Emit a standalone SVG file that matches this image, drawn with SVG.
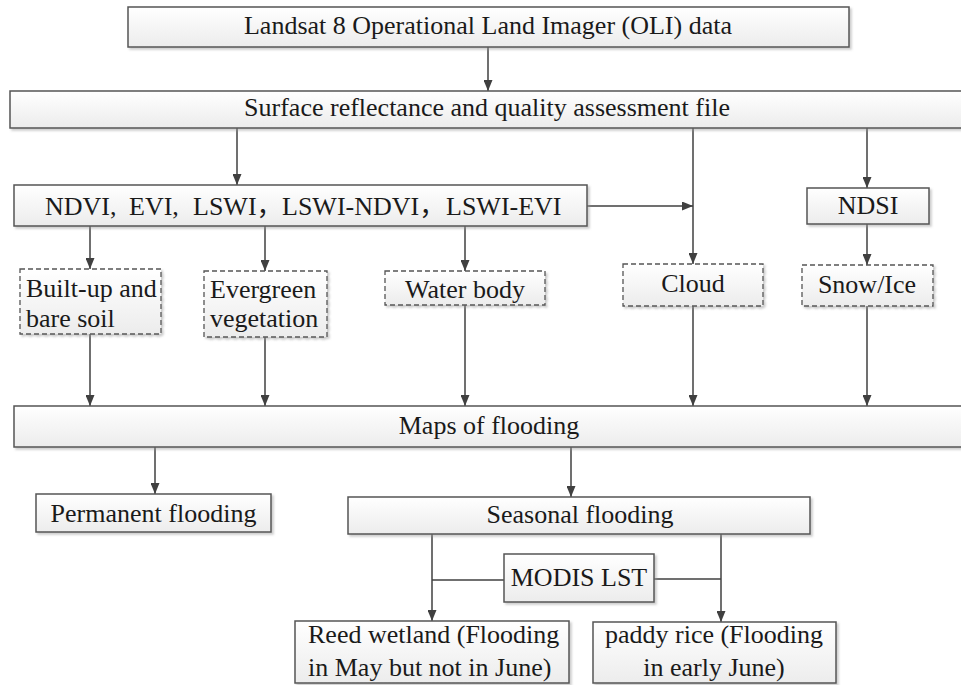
<svg xmlns="http://www.w3.org/2000/svg" width="961" height="685" viewBox="0 0 961 685">
<defs>
<linearGradient id="g" x1="0" y1="0" x2="0" y2="1">
<stop offset="0" stop-color="#ffffff"/>
<stop offset="1" stop-color="#ececec"/>
</linearGradient>
<filter id="sh" x="-5%" y="-20%" width="110%" height="150%">
<feDropShadow dx="2" dy="2" stdDeviation="1" flood-color="#999" flood-opacity="0.5"/>
</filter>
<marker id="ar" viewBox="0 0 10 10" refX="10" refY="5" markerWidth="11" markerHeight="9" markerUnits="userSpaceOnUse" orient="auto" preserveAspectRatio="none">
<path d="M0,0 L10,5 L0,10 z" fill="#404040"/>
</marker>
</defs>
<style>
.b{fill:url(#g);stroke:#555;stroke-width:1.5;filter:url(#sh)}
.d{fill:url(#g);stroke:#555;stroke-width:1.3;stroke-dasharray:5 3;filter:url(#sh)}
text{font-family:"Liberation Serif","Noto Sans CJK SC",serif;font-size:26px;fill:#1a1a1a}
.m{text-anchor:middle}
.c path{fill:none;stroke:#404040;stroke-width:1.5}
.c path.a{marker-end:url(#ar)}
</style>
<rect width="961" height="685" fill="#fff"/>
<g class="c" id="connectors">
<path class="a" d="M488,47 V91"/>
<path class="a" d="M237,128 V185"/>
<path class="a" d="M693,128 V264"/>
<path class="a" d="M867,128 V188"/>
<path class="a" d="M587,206 H693"/>
<path class="a" d="M90,226 V269"/>
<path class="a" d="M265,226 V271"/>
<path class="a" d="M465,226 V271"/>
<path class="a" d="M867,224 V265"/>
<path class="a" d="M90,334 V406"/>
<path class="a" d="M265,337 V406"/>
<path class="a" d="M465,305 V406"/>
<path class="a" d="M693,306 V406"/>
<path class="a" d="M867,306 V406"/>
<path class="a" d="M155,447 V494"/>
<path class="a" d="M571,447 V497"/>
<path class="a" d="M432,534 V621"/>
<path class="a" d="M721,534 V622"/>
<path d="M432,580 H504"/>
<path d="M654,579 H721"/>
</g>
<g id="landsat"><rect class="b" x="128" y="7" width="721" height="40"/><text class="m" x="488" y="34">Landsat 8 Operational Land Imager (OLI) data</text></g>
<g id="surface"><rect class="b" x="10" y="91" width="956" height="37"/><text class="m" x="487" y="116">Surface reflectance and quality assessment file</text></g>
<g id="indices"><rect class="b" x="14" y="185" width="573" height="41"/><text y="215"><tspan x="45">NDVI,</tspan><tspan x="129">EVI,</tspan><tspan x="193">LSWI，</tspan><tspan x="282">LSWI-NDVI，</tspan><tspan x="446">LSWI-EVI</tspan></text></g>
<g id="ndsi"><rect class="b" x="807" y="188" width="122" height="36"/><text class="m" x="868" y="214">NDSI</text></g>
<g id="builtup"><rect class="d" x="20" y="269" width="141" height="65"/><text x="26" y="297">Built-up and</text><text x="26" y="327">bare soil</text></g>
<g id="evergreen"><rect class="d" x="204" y="271" width="123" height="66"/><text x="210" y="298">Evergreen</text><text x="210" y="327">vegetation</text></g>
<g id="water"><rect class="d" x="385" y="271" width="160" height="34"/><text class="m" x="465" y="298">Water body</text></g>
<g id="cloud"><rect class="d" x="623" y="264" width="140" height="42"/><text class="m" x="693" y="292">Cloud</text></g>
<g id="snow"><rect class="d" x="802" y="265" width="131" height="41"/><text class="m" x="867" y="293">Snow/Ice</text></g>
<g id="maps"><rect class="b" x="14" y="406" width="952" height="41"/><text class="m" x="489" y="434">Maps of flooding</text></g>
<g id="permanent"><rect class="b" x="36" y="494" width="235" height="38"/><text class="m" x="153.5" y="522">Permanent flooding</text></g>
<g id="seasonal"><rect class="b" x="348" y="497" width="462" height="37"/><text class="m" x="580" y="523">Seasonal flooding</text></g>
<g id="modis"><rect class="b" x="504" y="554" width="150" height="48"/><text class="m" x="579" y="586">MODIS LST</text></g>
<g id="reed"><rect class="b" x="295" y="621" width="274" height="62"/><text x="308" y="643">Reed wetland (Flooding</text><text x="308" y="676">in May but not in June)</text></g>
<g id="paddy"><rect class="b" x="593" y="622" width="243" height="61"/><text class="m" x="714" y="643">paddy rice (Flooding</text><text class="m" x="714" y="676">in early June)</text></g>
</svg>
